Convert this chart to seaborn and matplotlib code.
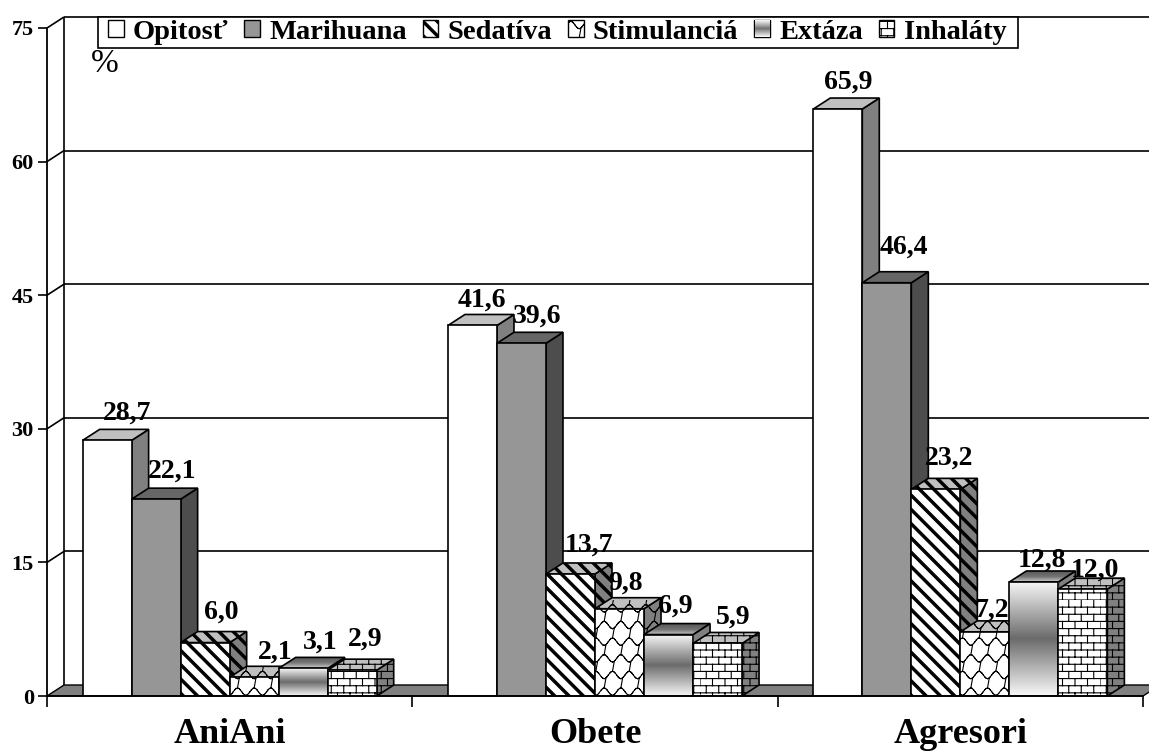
import warnings
import numpy as np
import pandas as pd
import matplotlib
matplotlib.use("Agg")
import matplotlib.pyplot as plt
import matplotlib.hatch as mhatch
from matplotlib.patches import Patch, Polygon, Rectangle
from matplotlib.path import Path
import seaborn as sns

warnings.filterwarnings("ignore")

groups = ["AniAni", "Obete", "Agresori"]
substances = ["Opitosť", "Marihuana", "Sedatíva", "Stimulanciá", "Extáza", "Inhaláty"]
opitost = [28.7, 41.6, 65.9]
marihuana = [22.1, 39.6, 46.4]
sedativa = [6.0, 13.7, 23.2]
stimulancia = [2.1, 9.8, 7.2]
extaza = [3.1, 6.9, 12.8]
inhalaty = [2.9, 5.9, 12.0]
y_ticks = [0, 15, 30, 45, 60, 75]

W, H = 1149, 751

# pixel nudges of the value labels from the top middle of each bar
label_nudge = [
    [(20, 27), (9, 25), (10, 27)],
    [(16, 28), (16, 27), (17, 36)],
    [(16, 30), (19, 29), (13, 31)],
    [(21, 25), (6, 26), (7, 22)],
    [(17, 26), (7, 28), (8, 22)],
    [(13, 31), (16, 26), (12, 19)],
]


# === custom hatches, the built in ones have no bricks or cobbles ===
class TextureHatch(mhatch.HatchPatternBase):
    symbol = "?"

    def __init__(self, hatch, density):
        self.verts = np.zeros((0, 2))
        self.cds = np.zeros(0, dtype=Path.code_type)
        if self.symbol in hatch:
            self.verts, self.cds = self.build()
        self.num_vertices = len(self.verts)

    def set_vertices_and_codes(self, vertices, codes):
        vertices[:] = self.verts
        codes[:] = self.cds


def lines_to_path(lines):
    # only two point pieces, agg also fills a hatch path
    verts, cds = [], []
    for line in lines:
        for a, b in zip(line[:-1], line[1:]):
            verts += [a, b]
            cds += [Path.MOVETO, Path.LINETO]
    return np.array(verts, dtype=float), np.array(cds, dtype=Path.code_type)


class BrickHatch(TextureHatch):
    symbol = "B"

    def build(self):
        rows, cols = 14, 8
        lines = []
        for r in range(rows):
            y0, y1 = r / rows, (r + 1) / rows
            lines.append([(0, y0), (1, y0)])
            shift = 0.5 * (r % 2) / cols
            for c in range(cols):
                x = c / cols + shift
                lines.append([(x, y0), (x, y1)])
        return lines_to_path(lines)


class CobbleHatch(TextureHatch):
    symbol = "W"

    def build(self):
        n = 6
        lines = []
        t = np.linspace(0, 1, 73)
        for r in range(n):
            y = (r + 0.5) / n
            phase = np.pi * (r % 2)
            lines.append(list(zip(t, y + 0.22 / n * np.sin(2 * np.pi * n * t + phase))))
            for c in range(n):
                x = (c + 0.25 + 0.5 * (r % 2)) / n
                lines.append([(x, y + 0.22 / n), (x + 0.1 / n, y + 0.78 / n)])
        return lines_to_path(lines)


class StripeHatch(TextureHatch):
    symbol = "S"

    def build(self):
        n = 7
        w = 0.033
        verts, cds = [], []
        for i in range(-n - 1, n + 1):
            x = i / n
            verts += [(x, 1), (x + w, 1), (x + w + 1, 0), (x + 1, 0), (x, 1)]
            cds += [Path.MOVETO, Path.LINETO, Path.LINETO, Path.LINETO, Path.CLOSEPOLY]
        return np.array(verts, dtype=float), np.array(cds, dtype=Path.code_type)


mhatch._hatch_types.extend([BrickHatch, CobbleHatch, StripeHatch])

sns.set_theme(style="white")
plt.rcParams["font.family"] = ["Liberation Serif", "DejaVu Serif"]
plt.rcParams["hatch.linewidth"] = 0.8
plt.rcParams["axes.linewidth"] = 1.3

front_colors = ["#ffffff", "#969696", "#ffffff", "#ffffff", "#ffffff", "#ffffff"]
top_colors = ["#c0c0c0", "#666666", "#c0c0c0", "#c0c0c0", "#777777", "#c0c0c0"]
side_colors = ["#808080", "#4d4d4d", "#808080", "#808080", "#808080", "#808080"]
hatches = ["", "", "S", "W", "", "B"]

series = [opitost, marihuana, sedativa, stimulancia, extaza, inhalaty]
df = pd.DataFrame({
    "skupina": np.repeat(groups, len(substances)),
    "latka": substances * len(groups),
    "hodnota": [s[g] for g in range(len(groups)) for s in series],
})

fig = plt.figure(figsize=(W / 100, H / 100), dpi=100)
ax = fig.add_axes([47 / W, 1 - 696 / H, (1143 - 47) / W, (696 - 28) / H])

sns.barplot(data=df, x="skupina", y="hodnota", hue="latka", hue_order=substances,
            order=groups, palette=front_colors, saturation=1, width=0.805, gap=0,
            edgecolor="black", linewidth=1.2, legend=False, ax=ax)

ax.set_xlim(-0.5, 2.5)
ax.set_ylim(0, 75)

# depth of the fake 3D box, in data units
dx = 17 / ((1143 - 47) / 3)
dy = 11 / ((696 - 28) / 75)

line_kw = dict(color="black", lw=1.2, clip_on=False, solid_capstyle="butt")

# floor and back wall
ax.add_patch(Polygon([(-0.5, 0), (-0.5 + dx, dy), (2.5 + dx, dy), (2.5, 0)], closed=True,
                     facecolor="#808080", edgecolor="black", lw=1.0, clip_on=False, zorder=1))
ax.plot([-0.5 + dx, -0.5 + dx], [dy, 75 + dy], zorder=1.5, **line_kw)
for t in y_ticks[1:]:
    ax.plot([-0.5 + dx, 2.5 + dx], [t + dy, t + dy], zorder=1.5, **line_kw)
    ax.plot([-0.5, -0.5 + dx], [t, t + dy], zorder=1.5, **line_kw)


def gradient(a, b, c, extent, z, clip):
    grad = np.interp(np.linspace(0, 1, 101), [0, 0.5, 1], [a, b, c]).reshape(-1, 1)
    im = ax.imshow(grad, extent=extent, aspect="auto", cmap="gray", vmin=0, vmax=1,
                   zorder=z, interpolation="bilinear")
    im.set_clip_path(clip)


for s, container in enumerate(ax.containers):
    for g, bar in enumerate(container):
        x0, w, h = bar.get_x(), bar.get_width(), bar.get_height()
        x1 = x0 + w
        order = g * 10 + s
        z = 3 + order
        side = Polygon([(x1, 0), (x1 + dx, dy), (x1 + dx, h + dy), (x1, h)], closed=True,
                       facecolor=side_colors[s], edgecolor="black", lw=1.2, hatch=hatches[s],
                       clip_on=False, zorder=z)
        top = Polygon([(x0, h), (x0 + dx, h + dy), (x1 + dx, h + dy), (x1, h)], closed=True,
                      facecolor=top_colors[s], edgecolor="black", lw=1.2, hatch=hatches[s],
                      clip_on=False, zorder=z + 0.1)
        ax.add_patch(side)
        ax.add_patch(top)
        bar.set_zorder(z + 0.3)
        bar.set_hatch(hatches[s])
        if substances[s] == "Extáza":
            # silver band gradient on the front and the lid
            bar.set_facecolor("none")
            top.set_facecolor("none")
            top.set_zorder(z + 0.15)
            gradient(0.97, 0.42, 0.97, (x0, x1, 0, h), z + 0.2, bar)
            gradient(0.35, 0.45, 0.8, (x0, x1 + dx, h, h + dy), z + 0.1, top)
        nudge = label_nudge[s][g]
        ax.annotate(f"{h:.1f}".replace(".", ","), xy=(x0 + w / 2, h), xytext=nudge,
                    textcoords="offset pixels", ha="center", va="center",
                    fontsize=20, fontweight="bold", color="black", zorder=60,
                    annotation_clip=False)

ax.set_xlim(-0.5, 2.5)
ax.set_ylim(0, 75)

sns.despine(ax=ax)
ax.set_xlabel("")
ax.set_ylabel("")
ax.set_yticks(y_ticks, labels=[str(t) for t in y_ticks])
ax.set_xticks([-0.5, 0.5, 1.5, 2.5], labels=["", "", "", ""])
ax.set_xticks([0, 1, 2], labels=groups, minor=True)
ax.tick_params(axis="y", left=True, length=6.5, width=1.2, color="black", pad=3, labelsize=16)
ax.tick_params(axis="x", which="major", bottom=True, length=8, width=1.2, color="black")
ax.tick_params(axis="x", which="minor", bottom=False, length=0, pad=15.5, labelsize=26)
for lab in ax.get_yticklabels() + ax.get_xticklabels(minor=True):
    lab.set_fontweight("bold")
    lab.set_color("black")
ax.spines["left"].set_color("black")
ax.spines["bottom"].set_color("black")
ax.spines["bottom"].set_zorder(70)
ax.spines["left"].set_zorder(70)

ax.text(105 / W, 1 - 64 / H, "%", transform=fig.transFigure, fontsize=24, ha="center",
        va="center", color="black", zorder=80)

# legend box drawn apart so the entries can sit further in
ax.add_patch(Rectangle((98 / W, 1 - 48 / H), (1018 - 98) / W, 31 / H, transform=fig.transFigure,
                       facecolor="white", edgecolor="black", lw=1.2, clip_on=False, zorder=74))
handles = [Patch(facecolor=front_colors[i], edgecolor="black", hatch=hatches[i], lw=1.0)
           for i in range(len(substances))]
leg = ax.legend(handles, substances, ncols=6, loc="upper left",
                bbox_to_anchor=(105 / W, 1 - 17 / H), bbox_transform=fig.transFigure,
                borderaxespad=0, frameon=False,
                prop={"family": "Liberation Serif", "weight": "bold", "size": 20.5},
                handlelength=0.56, handleheight=0.56, handletextpad=0.32,
                columnspacing=0.55, borderpad=0.1)
leg.set_zorder(75)
for txt in leg.get_texts():
    txt.set_color("black")

# legend swatch of Extáza carries the same gradient
fig.canvas.draw()
ext = leg.legend_handles[4].get_window_extent()
sw, sh = int(ext.width), int(ext.height)
swatch = np.interp(np.linspace(0, 1, sh), [0, 0.5, 1], [0.95, 0.45, 0.95])
swatch = np.tile(swatch.reshape(-1, 1), (1, sw))
fig.figimage(swatch, xo=int(ext.x0) + 1, yo=int(ext.y0) + 1, cmap="gray", vmin=0, vmax=1, zorder=90)

fig.savefig("out.png", dpi=100)
